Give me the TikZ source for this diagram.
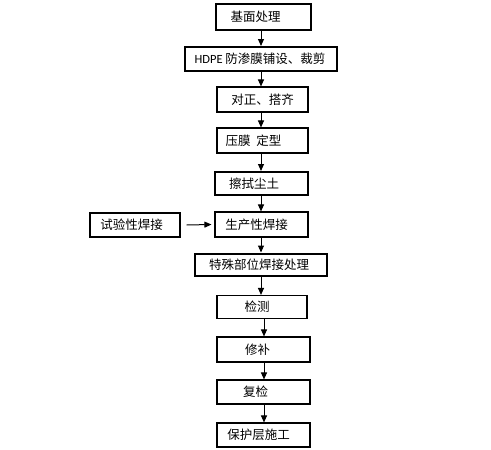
\documentclass[tikz,border=0pt]{standalone}
\usepackage{fontspec}
\setmainfont{Noto Sans CJK SC}
\newfontfamily\latinfont{Carlito}
\usetikzlibrary{arrows.meta}
\newcommand\lsh[2]{#2\hspace*{#1}}
\begin{document}
\begin{tikzpicture}[x=1pt,y=-1pt,
  box/.style={draw=black,line width=1.1pt,fill=white,inner sep=0pt,minimum height=24pt,font=\fontsize{12.5}{14}\selectfont},
  thickbox/.style={box,line width=2pt},
  arr/.style={line width=1pt,-{Triangle[length=7pt,width=6pt]}}]
\useasboundingbox (0,0) rectangle (491,450);
\fill[white] (0,0) rectangle (491,450);
\node[thickbox,minimum width=95pt,minimum height=26pt] (n1) at (263.5,17) {\lsh{16pt}{基面处理}};
\node[thickbox,minimum width=152pt] (n2) at (261,59) {\lsh{2pt}{{\latinfont HDPE} 防渗膜铺设、裁剪}};
\node[box,minimum width=91pt,minimum height=25pt] (n3) at (262.5,99.5) {对正、搭齐};
\node[box,minimum width=91pt,minimum height=25pt] (n4) at (262.5,140.5) {\lsh{18pt}{压膜\ \ 定型}};
\node[thickbox,minimum width=93pt,minimum height=23pt] (n5) at (261.5,183.5) {\lsh{15pt}{擦拭尘土}};
\node[box,minimum width=93pt,minimum height=25pt] (n6) at (261.5,224.5) {\lsh{10pt}{生产性焊接}};
\node[box,minimum width=90pt,minimum height=24pt] (t) at (135,225) {\lsh{7pt}{试验性焊接}};
\node[thickbox,minimum width=132pt,minimum height=22pt] (n7) at (261,264.5) {\lsh{4pt}{特殊部位焊接处理}};
\node[box,minimum width=90pt,minimum height=23pt] (n8) at (262,307) {\lsh{10pt}{检测}};
\node[box,minimum width=93pt,minimum height=25pt] (n9) at (263.5,349.5) {\lsh{12pt}{修补}};
\node[box,minimum width=93pt,minimum height=24pt] (n10) at (263.5,392) {\lsh{16pt}{复检}};
\node[box,minimum width=93pt,minimum height=24pt] (n11) at (263.5,435) {\lsh{10pt}{保护层施工}};
\coordinate (c1) at (261,0);
\draw[arr] (n1.south -| c1) -- (n2.north -| c1);
\draw[arr] (n2.south -| c1) -- (n3.north -| c1);
\draw[arr] (n3.south -| c1) -- (n4.north -| c1);
\draw[arr] (n4.south -| c1) -- (n5.north -| c1);
\draw[arr] (n5.south -| c1) -- (n6.north -| c1);
\draw[arr] (n6.south -| c1) -- (n7.north -| c1);
\draw[arr] (n7.south -| c1) -- (n8.north -| c1);
\coordinate (c2) at (264,0);
\draw[arr] (n8.south -| c2) -- (n9.north -| c2);
\draw[arr] (n9.south -| c2) -- (n10.north -| c2);
\draw[arr] (n10.south -| c2) -- (n11.north -| c2);
\draw[arr] ([xshift=6pt]t.east) -- ([xshift=-3pt]n6.west);
\end{tikzpicture}
\end{document}
